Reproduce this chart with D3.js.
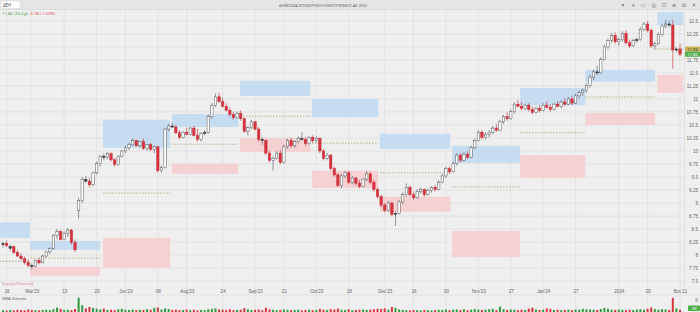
<!DOCTYPE html>
<html><head><meta charset="utf-8">
<script src="https://cdn.jsdelivr.net/npm/d3@7"></script>
<style>html,body{margin:0;padding:0;background:#efefef;overflow:hidden}svg{display:block;font-family:"Open Sans","DejaVu Sans",sans-serif}</style>
</head><body><svg id="c" width="700" height="312"></svg>
<script>
// ---------- DATA ----------
const opens=[8.20,8.22,8.13,8.16,8.05,7.98,7.93,7.86,7.80,7.78,
7.90,7.85,7.98,8.06,8.12,8.38,8.45,8.30,8.42,8.48,
8.24,8.85,9.05,9.45,9.42,9.35,9.58,9.76,9.90,9.88,
9.95,9.83,9.74,9.90,10.00,10.06,10.12,10.20,10.10,10.18,
10.05,10.12,10.03,10.08,9.62,9.68,10.42,10.48,10.46,10.35,
10.26,10.36,10.32,10.44,10.30,10.22,10.34,10.36,10.66,10.88,
11.04,10.95,10.86,10.78,10.70,10.64,10.72,10.62,10.38,10.45,
10.56,10.42,10.22,10.20,9.96,9.82,9.86,9.96,9.78,10.08,
10.20,10.10,10.18,10.24,10.22,10.14,10.26,10.20,10.24,10.00,
9.86,9.92,9.66,9.54,9.34,9.52,9.58,9.40,9.48,9.38,
9.32,9.46,9.56,9.40,9.26,9.12,8.96,8.86,9.00,8.78,
8.80,9.02,9.16,9.30,9.16,9.10,9.22,9.26,9.16,9.24,
9.30,9.26,9.40,9.52,9.66,9.60,9.76,9.92,9.82,9.94,
9.88,10.06,10.20,10.36,10.26,10.32,10.36,10.44,10.40,10.56,
10.66,10.62,10.76,10.90,10.86,10.82,10.88,10.80,10.74,10.82,
10.78,10.88,10.84,10.80,10.90,10.86,10.94,10.90,11.00,10.92,
11.06,11.12,11.16,11.26,11.42,11.52,11.50,11.76,12.00,12.12,
12.22,12.10,12.14,12.26,12.08,12.02,12.12,12.14,12.34,12.44,
12.32,12.02,12.06,12.24,12.40,12.44,12.42,11.94,11.96];
const highs=[8.26,8.28,8.20,8.18,8.10,8.04,7.97,7.92,7.84,7.92,
7.95,8.00,8.08,8.15,8.40,8.50,8.48,8.45,8.52,8.50,
8.30,9.10,9.50,9.52,9.48,9.60,9.80,9.92,9.95,9.98,
9.97,9.86,9.92,10.02,10.10,10.16,10.25,10.22,10.20,10.24,
10.14,10.16,10.10,10.10,9.72,10.45,10.52,10.55,10.50,10.40,
10.38,10.44,10.46,10.48,10.42,10.36,10.40,10.70,10.92,11.10,
11.12,11.02,10.92,10.84,10.76,10.76,10.78,10.64,10.48,10.60,
10.58,10.46,10.26,10.22,10.00,9.90,10.00,10.02,10.12,10.24,
10.26,10.20,10.28,10.36,10.26,10.28,10.30,10.28,10.26,10.04,
9.96,9.94,9.70,9.58,9.56,9.62,9.62,9.52,9.50,9.44,
9.48,9.62,9.60,9.44,9.30,9.16,9.00,9.04,9.02,8.84,
9.06,9.20,9.38,9.34,9.22,9.26,9.30,9.28,9.28,9.32,
9.34,9.44,9.56,9.70,9.70,9.80,9.96,9.96,9.98,10.00,
10.10,10.24,10.40,10.40,10.36,10.40,10.48,10.52,10.60,10.70,
10.74,10.80,10.94,10.98,10.94,10.90,10.92,10.86,10.86,10.88,
10.92,10.96,10.90,10.92,10.96,10.98,11.02,11.04,11.06,11.10,
11.16,11.20,11.30,11.46,11.56,11.64,11.80,12.04,12.16,12.26,
12.28,12.18,12.30,12.32,12.14,12.16,12.18,12.38,12.48,12.50,
12.36,12.10,12.28,12.44,12.52,12.50,12.52,12.00,12.06];
const lows=[8.14,8.15,8.08,8.02,7.96,7.90,7.82,7.76,7.72,7.76,
7.82,7.84,7.95,8.02,8.10,8.30,8.28,8.28,8.35,8.20,
8.05,8.70,9.00,9.38,9.30,9.32,9.55,9.70,9.82,9.84,
9.80,9.70,9.72,9.88,9.96,10.02,10.10,10.08,10.06,10.02,
10.00,10.00,9.96,9.58,9.58,9.66,10.38,10.44,10.32,10.22,
10.24,10.30,10.30,10.28,10.18,10.18,10.30,10.34,10.62,10.85,
10.92,10.84,10.76,10.66,10.60,10.62,10.58,10.35,10.30,10.42,
10.40,10.18,10.12,9.92,9.78,9.62,9.84,9.74,9.76,10.04,
10.06,10.06,10.14,10.20,10.10,10.12,10.16,10.16,9.96,9.82,
9.82,9.62,9.50,9.30,9.28,9.48,9.36,9.36,9.34,9.28,
9.30,9.42,9.36,9.22,9.08,8.92,8.82,8.84,8.74,8.56,
8.78,8.98,9.12,9.12,9.06,9.08,9.18,9.12,9.14,9.20,
9.22,9.24,9.38,9.48,9.56,9.58,9.72,9.78,9.80,9.84,
9.86,10.04,10.18,10.22,10.22,10.26,10.32,10.36,10.38,10.52,
10.58,10.60,10.72,10.84,10.78,10.78,10.76,10.70,10.72,10.74,
10.76,10.82,10.76,10.78,10.84,10.82,10.86,10.88,10.88,10.90,
11.00,11.06,11.12,11.22,11.36,11.46,11.48,11.74,11.96,12.08,
12.06,12.02,12.10,12.04,11.98,12.00,12.08,12.12,12.30,12.28,
11.98,11.94,12.04,12.20,12.36,12.38,11.58,11.90,11.82];
const closes=[8.22,8.18,8.16,8.05,7.98,7.93,7.86,7.80,7.78,7.90,
7.85,7.98,8.06,8.12,8.38,8.45,8.30,8.42,8.48,8.24,
8.10,9.05,9.45,9.42,9.35,9.58,9.76,9.90,9.88,9.95,
9.83,9.74,9.90,10.00,10.06,10.12,10.20,10.10,10.18,10.05,
10.12,10.03,10.08,9.62,9.68,10.42,10.48,10.46,10.35,10.26,
10.36,10.32,10.44,10.30,10.22,10.34,10.36,10.66,10.88,11.04,
10.95,10.86,10.78,10.70,10.64,10.72,10.62,10.38,10.45,10.56,
10.42,10.22,10.20,9.96,9.82,9.86,9.96,9.78,10.08,10.20,
10.10,10.18,10.24,10.22,10.14,10.26,10.20,10.24,10.00,9.86,
9.92,9.66,9.54,9.34,9.52,9.58,9.40,9.48,9.38,9.32,
9.46,9.56,9.40,9.26,9.12,8.96,8.86,9.00,8.78,8.80,
9.02,9.16,9.30,9.16,9.10,9.22,9.26,9.16,9.24,9.30,
9.26,9.40,9.52,9.66,9.60,9.76,9.92,9.82,9.94,9.88,
10.06,10.20,10.36,10.26,10.32,10.36,10.44,10.40,10.56,10.66,
10.62,10.76,10.90,10.86,10.82,10.88,10.80,10.74,10.82,10.78,
10.88,10.84,10.80,10.90,10.86,10.94,10.90,11.00,10.92,11.06,
11.12,11.16,11.26,11.42,11.52,11.50,11.76,12.00,12.12,12.22,
12.10,12.14,12.26,12.08,12.02,12.12,12.14,12.34,12.44,12.32,
12.02,12.06,12.24,12.40,12.44,12.42,11.94,11.96,11.86];
const volumes=[0.8,0.6,0.9,0.7,1.0,0.8,0.7,1.1,0.9,0.8,
0.7,0.9,1.0,0.8,1.2,1.9,1.4,0.9,1.0,0.8,
1.3,6.3,3.0,1.6,2.2,1.8,1.4,1.1,1.5,0.9,
1.0,0.8,1.2,1.4,1.0,0.9,1.1,0.8,1.0,0.9,
1.2,1.0,1.8,2.0,1.1,1.6,1.3,0.9,1.0,0.8,
0.9,1.1,0.8,1.0,0.7,0.9,0.8,1.2,1.4,1.6,
1.1,1.0,0.9,1.2,0.8,0.9,1.0,1.7,1.2,0.9,
1.0,1.1,0.8,1.9,1.2,1.0,0.8,0.9,1.1,1.0,
0.8,0.9,1.0,0.7,0.9,1.0,0.8,0.9,1.4,1.0,
0.9,1.3,1.1,1.5,1.0,0.9,1.2,0.8,0.9,1.0,
1.1,0.9,1.0,1.2,1.4,1.3,1.6,1.0,2.2,1.8,
1.1,0.9,0.8,0.7,0.9,0.8,0.7,0.9,0.8,0.7,
0.8,1.0,0.9,1.1,0.8,1.0,1.1,0.9,1.2,0.8,
1.0,1.3,1.1,0.9,1.0,1.2,1.4,0.8,2.4,1.2,
0.9,1.1,1.0,0.8,1.0,0.9,1.5,1.9,1.1,0.9,
1.0,1.6,1.3,0.9,1.0,0.8,0.9,1.0,0.8,1.1,
1.0,1.4,1.2,1.1,1.0,0.9,1.3,1.8,1.4,1.0,
0.9,1.1,1.0,0.8,1.0,0.9,1.1,1.2,1.0,1.4,
2.0,1.3,1.0,1.2,1.1,0.9,6.2,1.6,1.0];

const xTickIdx=[1,8,17,26,34,43,51,61,70,78,87,96,106,114,123,132,141,150,159,171,179,188];
const xTickLabels=["16","Mar'23","13","29","Jun'23","08","Aug'23","24","Sep'23","21","Oct'23","18","Dec'23","16","30","Nov'23","27","Jan'24","27","2024","29","Bot 12"];
const yTicks=[7.5,7.75,8,8.25,8.5,8.75,9,9.25,9.5,9.75,10,10.25,10.5,10.75,11,11.25,11.5,11.75,12,12.25,12.5];
const yTickHidden=[12]; // covered by the price tags in the reference

// zones (in candle-index units and prices)
const zoneStart=[-0.83,7.5,27.8,46.9,65.8,85.8,104.7,124.7,143.6,161.7,181.7];
const zoneEnd=[7.5,26.9,46.4,65.3,85.3,104.2,124.2,143.6,161.7,181.1,188.9];
const supplyTop=[8.63,8.27,10.60,10.71,11.35,11.00,10.33,10.10,11.21,11.56,12.67];
const supplyBottom=[8.33,8.10,10.06,10.46,11.06,10.65,10.04,9.77,10.88,11.33,12.42];
const demandTop=[null,7.77,8.33,9.75,10.25,9.62,9.12,8.46,9.92,10.73,11.46];
const demandBottom=[null,7.60,7.75,9.56,9.98,9.29,8.83,7.96,9.48,10.50,11.12];
const midLevel=[7.88,7.94,9.19,10.13,10.67,10.15,9.58,9.31,10.35,11.04,11.96];

const titleText="ΔΗΜΟΣΙΑ ΕΠΙΧΕΙΡΗΣΗ ΗΛΕΚΤΡΙΣΜΟΥ ΑΕ (ΚΟ)";
const symbolText="ΔΕΗ";
const quoteUp="11.86 (20.4 g)";
const quoteDown="-0.18 (-1.50%)";
const tagLevel="11.96", tagLast="11.86";

// ---------- DRAW ----------
const W=700,H=312, PL=0, PR=684, PT=10, PB=287, VT=297, VB=312;
const svg=d3.select("#c");
svg.append("rect").attr("width",W).attr("height",H).attr("fill","#efefef");

const n=closes.length;
const x=d3.scaleLinear().domain([0,n-1]).range([3,680]);
const y=d3.scaleLinear().domain([7.385,12.71]).range([PB,PT]);
const yv=d3.scaleLinear().domain([0,6.6]).range([VB,VT]);

// grid
const grid=svg.append("g");
grid.selectAll("line.h").data(yTicks).join("line")
 .attr("x1",PL).attr("x2",PR).attr("y1",d=>y(d)).attr("y2",d=>y(d))
 .attr("stroke","#dcdcdc").attr("stroke-width",0.6);
grid.selectAll("line.v").data(xTickIdx).join("line")
 .attr("x1",d=>x(d)).attr("x2",d=>x(d)).attr("y1",PT).attr("y2",H)
 .attr("stroke","#dcdcdc").attr("stroke-width",0.6);

// zones
const zi=d3.range(zoneStart.length);
svg.append("g").selectAll("rect").data(zi).join("rect")
 .attr("x",i=>x(zoneStart[i])).attr("width",i=>x(zoneEnd[i])-x(zoneStart[i]))
 .attr("y",i=>y(supplyTop[i])).attr("height",i=>y(supplyBottom[i])-y(supplyTop[i]))
 .attr("fill","#c6dcf1");
svg.append("g").selectAll("rect").data(zi.filter(i=>demandTop[i]!=null)).join("rect")
 .attr("x",i=>x(zoneStart[i])).attr("width",i=>x(zoneEnd[i])-x(zoneStart[i]))
 .attr("y",i=>y(demandTop[i])).attr("height",i=>y(demandBottom[i])-y(demandTop[i]))
 .attr("fill","#f5d1d4");
svg.append("g").selectAll("line").data(zi).join("line")
 .attr("x1",i=>x(zoneStart[i])).attr("x2",i=>i===zi.length-1?PR:x(zoneEnd[i]))
 .attr("y1",i=>y(midLevel[i])).attr("y2",i=>y(midLevel[i]))
 .attr("stroke","#a8925a").attr("stroke-width",0.7).attr("stroke-dasharray","1.5,1.5");

// candles
const idx=d3.range(n);
const cw=2.4;
const kind=i=>{const d=closes[i]-opens[i]; if(Math.abs(d)<=0.03) return "doji"; return d>0?"up":"down";};
const cg=svg.append("g");
cg.selectAll("line").data(idx).join("line")
 .attr("x1",i=>x(i)).attr("x2",i=>x(i)).attr("y1",i=>y(highs[i])).attr("y2",i=>y(lows[i]))
 .attr("stroke",i=>kind(i)==="down"?"#c42834":"#555").attr("stroke-width",0.6);
cg.selectAll("rect").data(idx).join("rect")
 .attr("x",i=>x(i)-cw/2).attr("width",cw)
 .attr("y",i=>y(Math.max(opens[i],closes[i])))
 .attr("height",i=>Math.max(0.8,Math.abs(y(opens[i])-y(closes[i]))))
 .attr("fill",i=>{const k=kind(i);return k==="up"?"#ffffff":k==="down"?"#d9333f":"#333";})
 .attr("stroke",i=>{const k=kind(i);return k==="up"?"#555":k==="down"?"#c42834":"#333";})
 .attr("stroke-width",0.5);

// volume
svg.append("g").selectAll("rect").data(idx).join("rect")
 .attr("x",i=>x(i)-1).attr("width",2)
 .attr("y",i=>yv(volumes[i])).attr("height",i=>VB-yv(volumes[i]))
 .attr("fill",i=>closes[i]>=opens[i]?"#2f9a3e":"#d9333f");

// axes
const fs=4.6;
const ya=svg.append("g").attr("transform",`translate(${PR},0)`)
 .call(d3.axisRight(y).tickValues(yTicks.filter(v=>!yTickHidden.includes(v))).tickSize(0).tickFormat(d=>String(d)));
ya.select(".domain").attr("stroke","#d4d4d4").attr("stroke-width",0.6);
ya.selectAll("text").attr("x",14).attr("text-anchor","end").attr("font-size",fs).attr("fill","#666");

const xa=svg.append("g").attr("transform",`translate(0,${PB})`)
 .call(d3.axisBottom(x).tickValues(xTickIdx).tickSize(0).tickPadding(3).tickFormat((d,i)=>xTickLabels[i]));
xa.select(".domain").remove();
xa.selectAll("text").attr("font-size",fs).attr("fill","#666");

// price tags
svg.append("rect").attr("x",PR+1).attr("y",y(+tagLevel)-2.6).attr("width",15).attr("height",5.2).attr("rx",1).attr("fill","#c9b358");
svg.append("text").attr("x",PR+8.5).attr("y",y(+tagLevel)+1.6).attr("text-anchor","middle").attr("font-size",4.2).attr("fill","#333").text(tagLevel);
svg.append("rect").attr("x",PR+1).attr("y",y(+tagLast)-2.6).attr("width",15).attr("height",5.2).attr("rx",1).attr("fill","#4fae4a");
svg.append("text").attr("x",PR+8.5).attr("y",y(+tagLast)+1.6).attr("text-anchor","middle").attr("font-size",4.2).attr("fill","#fff").text(tagLast);

// volume pane labels
svg.append("line").attr("x1",0).attr("x2",W).attr("y1",295).attr("y2",295).attr("stroke","#d8d8d8").attr("stroke-width",0.6);
svg.append("text").attr("x",2).attr("y",300).attr("font-size",4.2).attr("fill","#555").text("SMA Volume");
svg.append("text").attr("x",2).attr("y",285).attr("font-size",4.2).attr("fill","#e58a92").text("Supply/Demand");
svg.append("text").attr("x",698).attr("y",302).attr("text-anchor","end").attr("font-size",fs).attr("fill","#666").text("8");
svg.append("rect").attr("x",688).attr("y",305.5).attr("width",12).attr("height",5.5).attr("rx",1).attr("fill","#4fae4a");
svg.append("text").attr("x",694).attr("y",309.7).attr("text-anchor","middle").attr("font-size",3.8).attr("fill","#fff").text("1M");

// header
svg.append("rect").attr("x",0).attr("y",0).attr("width",W).attr("height",9.5).attr("fill","#e5e5e5");
svg.append("line").attr("x1",0).attr("x2",W).attr("y1",9.5).attr("y2",9.5).attr("stroke","#d0d0d0").attr("stroke-width",0.5);
svg.append("rect").attr("x",1).attr("y",1).attr("width",19).attr("height",7.5).attr("fill","#fff").attr("stroke","#ccc").attr("stroke-width",0.4);
svg.append("text").attr("x",3).attr("y",6.8).attr("font-size",4.4).attr("fill","#444").text(symbolText);
svg.append("text").attr("x",323).attr("y",6.7).attr("text-anchor","middle").attr("font-size",4.2).attr("fill","#555").text(titleText);
const q=svg.append("text").attr("x",2).attr("y",14.5).attr("font-size",4.2);
q.append("tspan").attr("fill","#3a9a45").text(quoteUp+" ");
q.append("tspan").attr("fill","#d9333f").text(quoteDown);
const icons=["▾","⏸","▭","◎","⊡","≡","⧉","✕"];
const iconX=[623,633,643,654,664,674,684,694];
svg.append("g").selectAll("text").data(icons).join("text")
 .attr("x",(d,i)=>iconX[i]).attr("y",7).attr("text-anchor","middle")
 .attr("font-family","DejaVu Sans").attr("font-size",5.5).attr("fill","#777").text(d=>d);
</script></body></html>
